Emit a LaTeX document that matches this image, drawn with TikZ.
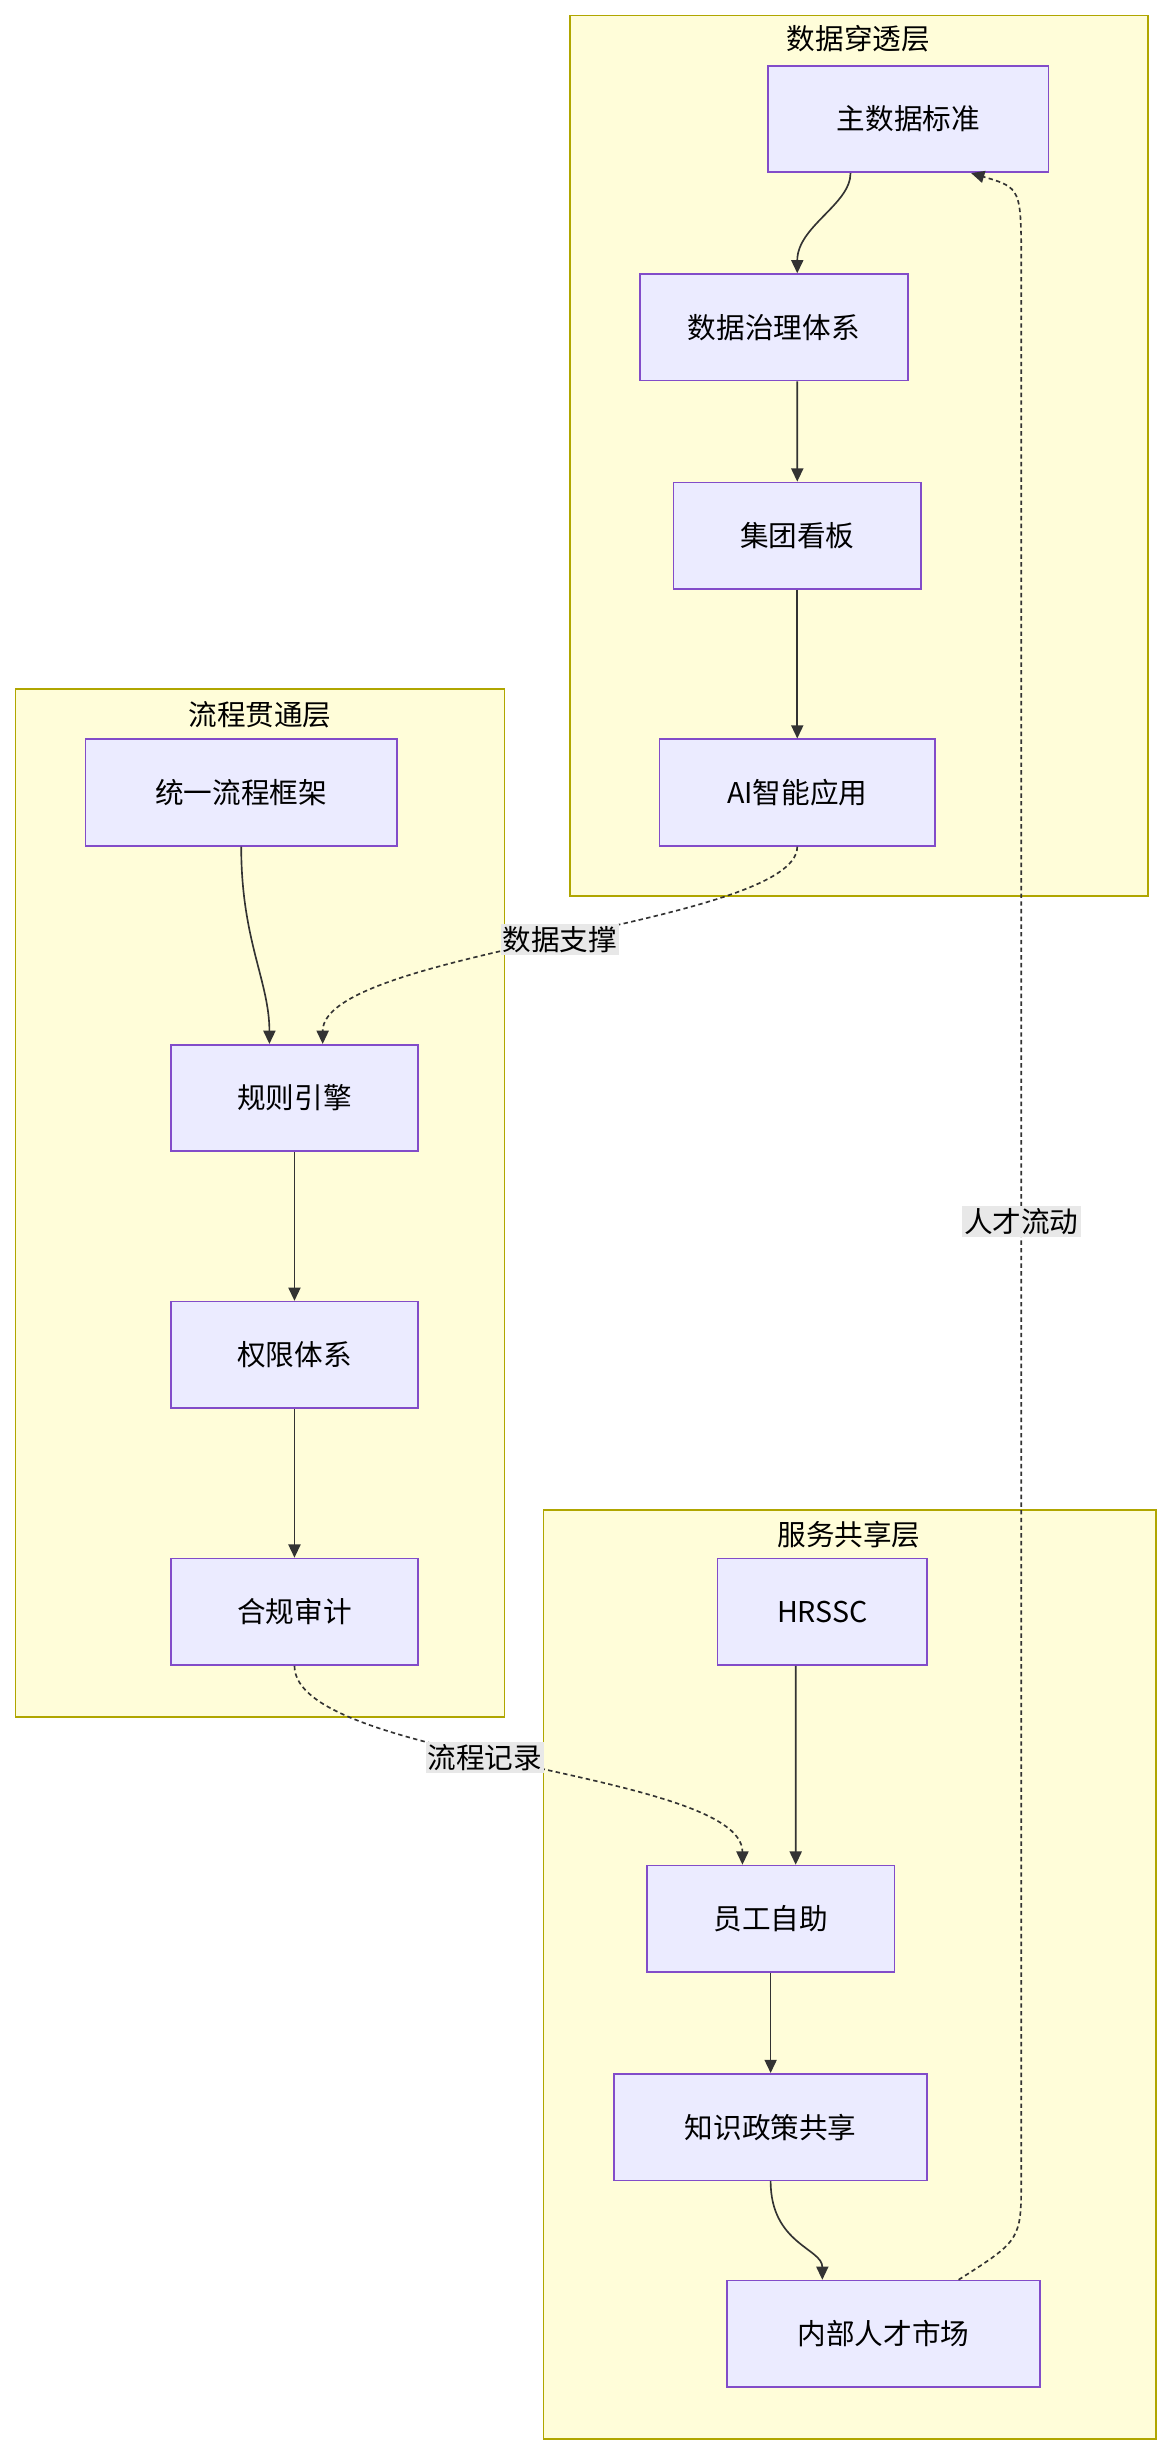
\documentclass[tikz,border=0pt]{standalone}
\usepackage{fontspec}
\setmainfont{Noto Sans CJK SC}
\usetikzlibrary{arrows.meta,positioning}
\tikzset{
  box/.style={rectangle, draw=violet!60!blue!70, fill=blue!8, line width=1.5pt, minimum height=3.4cm, inner sep=0pt},
  layer/.style={rectangle, draw=olive!70!yellow, fill=yellow!15, line width=1.5pt},
  edge/.style={draw=black!80, line width=1.5pt, -{Triangle[length=12pt,width=11pt]}},
  dedge/.style={edge, dash pattern=on 4pt off 3pt},
  tag/.style={fill=black!9, inner sep=2pt}
}
\begin{document}
\begin{tikzpicture}[x=0.05cm, y=-0.05cm, font=\fontsize{26}{30}\selectfont]
    \useasboundingbox (0,0) rectangle (745,1568);
    % layers
    \draw[layer] (364,10) rectangle (733,572);
    \node at (548,25) {数据穿透层};
    \draw[layer] (10,440) rectangle (322,1096);
    \node at (166,456) {流程贯通层};
    \draw[layer] (347,964) rectangle (738,1557);
    \node at (542,980) {服务共享层};

    % data layer
    \node[box, minimum width=8.95cm] (mdm) at (580,76) {主数据标准};
    \node[box, minimum width=8.55cm] (gov) at (494,209) {数据治理体系};
    \node[box, minimum width=7.9cm] (board) at (509,342) {集团看板};
    \node[box, minimum width=8.8cm] (ai) at (509,506) {AI智能应用};
    % process layer
    \node[box, minimum width=9.95cm] (frame) at (154,506) {统一流程框架};
    \node[box, minimum width=7.9cm] (rules) at (188,701) {规则引擎};
    \node[box, minimum width=7.9cm] (perm) at (188,865) {权限体系};
    \node[box, minimum width=7.9cm] (audit) at (188,1029) {合规审计};
    % service layer
    \node[box, minimum width=6.7cm] (hrssc) at (525,1029) {HRSSC};
    \node[box, minimum width=7.9cm] (self) at (492,1225) {员工自助};
    \node[box, minimum width=10cm] (know) at (492,1358) {知识政策共享};
    \node[box, minimum width=10cm] (talent) at (564,1490) {内部人才市场};

    \draw[edge] ([xshift=-1.85cm]mdm.south) .. controls +(0,20) and +(0,-30) .. ([xshift=0.75cm]gov.north);
    \draw[edge] ([xshift=0.75cm]gov.south) -- (board);
    \draw[edge] (board) -- (ai);
    \draw[edge] (frame.south) .. controls +(0,60) and +(0,-40) .. ([xshift=-0.8cm]rules.north);
    \draw[edge] (rules) -- (perm);
    \draw[edge] (perm) -- (audit);
    \draw[edge] ([xshift=-0.85cm]hrssc.south) .. controls +(0,80) and +(0,-50) .. ([xshift=0.8cm]self.north);
    \draw[edge] (self) -- (know);
    \draw[edge] (know.south) .. controls +(0,40) and +(0,-20) .. ([xshift=-1.95cm]talent.north);

    \draw[dedge] (ai.south) .. controls +(0,50) and +(0,-60) .. node[tag, pos=0.5] {数据支撑} ([xshift=0.9cm]rules.north);
    \draw[dedge] (audit.south) .. controls +(0,60) and +(0,-60) .. node[tag, pos=0.45] {流程记录} ([xshift=-0.9cm]self.north);
    \coordinate (up) at (652,170);
    \draw[dedge] ([xshift=2.4cm]talent.north) .. controls (652,1430) .. (652,1390)
        -- node[tag, pos=0.5] {人才流动} (up) .. controls (652,120) .. ([xshift=2cm]mdm.south);
\end{tikzpicture}
\end{document}
